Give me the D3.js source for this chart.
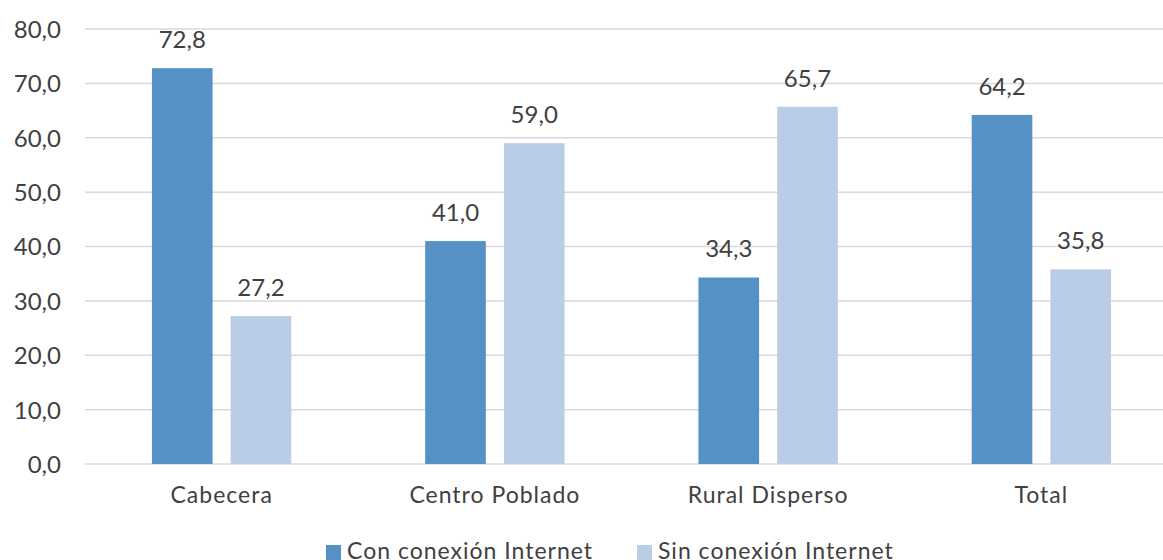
<!DOCTYPE html>
<html>
<head>
<meta charset="utf-8">
<script src="https://cdn.jsdelivr.net/npm/d3@7"></script>
<style>
  body { margin: 0; background: #fff; }
  svg { font-family: Lato, "Open Sans", sans-serif; }
</style>
</head>
<body>
<div id="chart"></div>
<script>
const categories = ["Cabecera", "Centro Poblado", "Rural Disperso", "Total"];
const series = ["Con conexión Internet", "Sin conexión Internet"];
const conInternet = [72.8, 41.0, 34.3, 64.2];
const sinInternet = [27.2, 59.0, 65.7, 35.8];
const yTicks = [0, 10, 20, 30, 40, 50, 60, 70, 80];
const colors = ["#5591c5", "#b9cde6"];

const width = 1163, height = 560;
const plot = {left: 85, right: 1178, top: 29, bottom: 464};

const data = categories.map((c, i) => ({cat: c, values: [conInternet[i], sinInternet[i]]}));

const svg = d3.select("#chart")
              .append("svg")
              .attr("width", width)
              .attr("height", height);

const x0 = d3.scaleBand()
             .domain(categories)
             .range([plot.left, plot.right])
             .paddingInner(0.49)
             .paddingOuter(0.245);

const x1 = d3.scaleBand()
             .domain(series)
             .range([0, x0.bandwidth()])
             .paddingInner(0.23);

const y = d3.scaleLinear()
            .domain([0, 80])
            .range([plot.bottom, plot.top]);

const fmt = v => d3.format(".1f")(v).replace(".", ",");

// grid lines
svg.append("g")
   .selectAll("line")
   .data(yTicks)
   .enter()
   .append("line")
   .attr("x1", plot.left)
   .attr("x2", width)
   .attr("y1", d => y(d))
   .attr("y2", d => y(d))
   .attr("stroke", "#d9d9d9")
   .attr("stroke-width", 1.5);

// y axis labels
const yAxis = svg.append("g")
   .attr("transform", `translate(61,0)`)
   .call(d3.axisLeft(y).tickValues(yTicks).tickFormat(fmt).tickSize(0));
yAxis.select(".domain").remove();
yAxis.selectAll("text")
     .attr("x", 0)
     .attr("dy", "0.35em")
     .style("font-size", "24px")
     .style("font-family", "Lato, sans-serif")
     .attr("fill", "#404040");

// x axis labels
const xAxis = svg.append("g")
   .attr("transform", `translate(0,${plot.bottom})`)
   .call(d3.axisBottom(x0).tickSize(0));
xAxis.select(".domain").remove();
xAxis.selectAll("text")
     .attr("y", 39)
     .attr("dy", 0)
     .style("font-size", "23px")
     .style("letter-spacing", "1px")
     .style("font-family", "Lato, sans-serif")
     .attr("fill", "#404040");

// bars
const groups = svg.selectAll(".group")
   .data(data)
   .enter()
   .append("g")
   .attr("class", "group")
   .attr("transform", d => `translate(${x0(d.cat)},0)`);

groups.selectAll("rect")
      .data(d => d.values.map((v, j) => ({s: series[j], v, j})))
      .enter()
      .append("rect")
      .attr("x", d => x1(d.s))
      .attr("y", d => y(d.v))
      .attr("width", x1.bandwidth())
      .attr("height", d => plot.bottom - y(d.v))
      .attr("fill", d => colors[d.j]);

groups.selectAll(".label")
      .data(d => d.values.map((v, j) => ({s: series[j], v, j})))
      .enter()
      .append("text")
      .attr("class", "label")
      .attr("x", d => x1(d.s) + x1.bandwidth() / 2)
      .attr("y", d => y(d.v) - 20)
      .attr("text-anchor", "middle")
      .style("font-size", "24px")
      .attr("fill", "#404040")
      .text(d => fmt(d.v));

// legend
const legendX = [326, 637];
const legend = svg.selectAll(".legend")
   .data(series)
   .enter()
   .append("g")
   .attr("class", "legend")
   .attr("transform", (d, i) => `translate(${legendX[i]},545)`);

legend.append("rect")
      .attr("width", 15)
      .attr("height", 15)
      .attr("fill", (d, i) => colors[i]);

legend.append("text")
      .attr("x", 21)
      .attr("y", 14)
      .style("font-size", "23px")
      .style("letter-spacing", "1px")
      .attr("fill", "#404040")
      .text(d => d);
</script>
</body>
</html>
